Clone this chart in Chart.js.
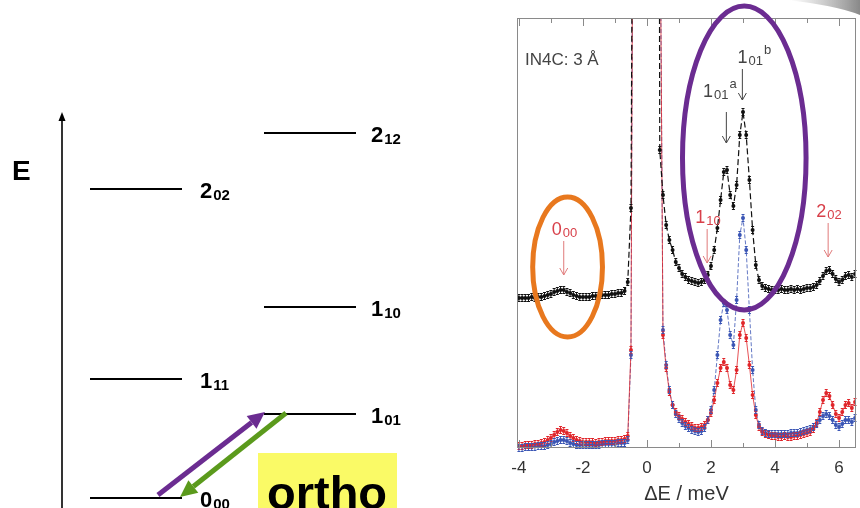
<!DOCTYPE html>
<html>
<head>
<meta charset="utf-8">
<script src="https://cdn.jsdelivr.net/npm/chart.js@4/dist/chart.umd.min.js"></script>
<style>
  html, body { margin: 0; padding: 0; background: #fff; }
</style>
</head>
<body>
<canvas id="chart" width="860" height="508"></canvas>
<script>
"use strict";

// energy transfer (meV), one point per 0.1 meV
var energy = [
  -4.0, -3.9, -3.8, -3.7, -3.6, -3.5, -3.4, -3.3, -3.2, -3.1,
  -3.0, -2.9, -2.8, -2.7, -2.6, -2.5, -2.4, -2.3, -2.2, -2.1,
  -2.0, -1.9, -1.8, -1.7, -1.6, -1.5, -1.4, -1.3, -1.2, -1.1,
  -1.0, -0.9, -0.8, -0.7, -0.6, -0.5, -0.4, -0.3, -0.2, -0.1,
  0.0, 0.1, 0.2, 0.3, 0.4, 0.5, 0.6, 0.7, 0.8, 0.9,
  1.0, 1.1, 1.2, 1.3, 1.4, 1.5, 1.6, 1.7, 1.8, 1.9,
  2.0, 2.1, 2.2, 2.3, 2.4, 2.5, 2.6, 2.7, 2.8, 2.9,
  3.0, 3.1, 3.2, 3.3, 3.4, 3.5, 3.6, 3.7, 3.8, 3.9,
  4.0, 4.1, 4.2, 4.3, 4.4, 4.5, 4.6, 4.7, 4.8, 4.9,
  5.0, 5.1, 5.2, 5.3, 5.4, 5.5, 5.6, 5.7, 5.8, 5.9,
  6.0, 6.1, 6.2, 6.3, 6.4, 6.5, 6.6
];

// intensities (arb. units); the elastic line at 0 meV runs far off scale
var seriesBlack = [
  150, 150, 150, 150, 151, 150, 151, 151, 152, 153,
  154, 156, 157, 158, 158, 156, 155, 153, 152, 151,
  151, 151, 151, 152, 152, 152, 153, 153, 153, 154,
  154, 155, 155, 157, 166, 240, 900, 3000, 6000, 8000,
  8500, 7500, 5000, 2000, 298, 253, 223, 208, 198, 186,
  180, 174, 171, 168, 167, 166, 165, 166, 168, 173,
  182, 198, 220, 248, 276, 278, 253, 242, 263, 313,
  336, 313, 268, 218, 183, 168, 162, 160, 159, 158,
  158, 158, 159, 158, 158, 159, 158, 159, 158, 159,
  160, 160, 161, 163, 167, 172, 177, 178, 174, 169,
  166, 168, 172, 173, 171, 174, 174
];

var seriesRed = [
  2, 2, 3, 3, 3, 4, 4, 5, 6, 8,
  10, 13, 16, 18, 17, 15, 12, 10, 8, 7,
  6, 6, 6, 6, 5, 6, 6, 7, 7, 7,
  7, 8, 8, 9, 12, 98, 900, 3000, 6000, 8000,
  8500, 7500, 5000, 2000, 600, 113, 80, 56, 43, 36,
  32, 29, 26, 24, 22, 20, 20, 21, 23, 28,
  35, 48, 65, 80, 86, 80, 63, 58, 78, 113,
  125, 110, 83, 53, 33, 21, 16, 14, 13, 12,
  12, 11, 11, 12, 11, 11, 12, 12, 13, 14,
  15, 16, 19, 25, 36, 48, 55, 52, 43, 34,
  30, 36, 43, 45, 40, 46, 48
];

var seriesBlue = [
  0, 0, 1, 1, 1, 1, 2, 2, 2, 3,
  4, 6, 7, 8, 8, 7, 5, 4, 3, 3,
  3, 3, 3, 3, 3, 3, 4, 4, 4, 4,
  4, 5, 5, 5, 8, 93, 900, 3000, 6000, 8000,
  8500, 7500, 5000, 2000, 600, 118, 83, 58, 43, 34,
  29, 25, 22, 20, 18, 17, 16, 17, 20, 28,
  38, 58, 93, 128, 145, 138, 113, 103, 148, 213,
  230, 198, 138, 78, 38, 23, 17, 15, 14, 14,
  14, 14, 14, 14, 14, 15, 15, 15, 16, 17,
  18, 19, 21, 24, 28, 32, 34, 32, 28, 23,
  21, 24, 28, 28, 26, 30, 31
];

var tickValues = [-4, -2, 0, 2, 4, 6];

// transitions marked in red (label, subscript, energy, intensity the arrow points at)
var redMain = ["0", "1", "2"];
var redSub = ["00", "10", "02"];
var redEnergy = [-2.6, 1.88, 5.66];
var redTip = [173, 185, 191];

// black labels over the split 1_01 peak
var blackSup = ["a", "b"];
var blackEnergy = [2.48, 2.98];
var blackTip = [305, 348];
var blackLabelX = [1.75, 2.83];
var blackLabelLevel = [351, 385];

// highlight ellipses: centre energy, centre intensity, half width (meV), half height
var ellipseEnergy = [-2.48, 3.04];
var ellipseLevel = [181, 290];
var ellipseHalfW = [1.09, 1.93];
var ellipseHalfH = [70, 152];
var ellipseColor = ["#e8781e", "#6b2c91"];

// rotational levels of the diagram on the left
var levelMain = ["0", "1", "2", "1", "1", "2"];
var levelSub = ["00", "11", "02", "01", "10", "12"];

// pixel layout of the level diagram
var levelY = [498, 379, 189, 414, 307, 133];
var levelCol = [0, 0, 0, 1, 1, 1];
var colX = [[90, 182], [264, 356]];
var colLabelX = [200, 371];

var FONT = "'Liberation Sans', Arial, Helvetica, sans-serif";

function font(size, bold) {
  return (bold ? "bold " : "") + size + "px " + FONT;
}

// text with subscript and optional superscript
function drawIndexed(c, main, sub, sup, x, y, size, subSize, color, bold) {
  c.fillStyle = color;
  c.textAlign = "left";
  c.textBaseline = "alphabetic";
  c.font = font(size, bold);
  c.fillText(main, x, y);
  var w = c.measureText(main).width;
  c.font = font(subSize, bold);
  c.fillText(sub, x + w + 1, y + 2);
  var w2 = c.measureText(sub).width;
  if (sup) {
    c.fillText(sup, x + w + w2 + 2, y - size * 0.5);
  }
}

function downArrow(c, x, y0, y1, color) {
  c.strokeStyle = color;
  c.lineWidth = 1;
  c.beginPath();
  c.moveTo(x, y0);
  c.lineTo(x, y1);
  c.moveTo(x - 4, y1 - 7);
  c.lineTo(x, y1);
  c.lineTo(x + 4, y1 - 7);
  c.stroke();
}

function fatArrow(c, x0, y0, x1, y1, color) {
  var a = Math.atan2(y1 - y0, x1 - x0);
  var head = 17;
  var bx = x1 - head * Math.cos(a);
  var by = y1 - head * Math.sin(a);
  c.strokeStyle = color;
  c.fillStyle = color;
  c.lineWidth = 5;
  c.beginPath();
  c.moveTo(x0, y0);
  c.lineTo(bx, by);
  c.stroke();
  c.beginPath();
  c.moveTo(x1, y1);
  c.lineTo(bx + 8 * Math.sin(a), by - 8 * Math.cos(a));
  c.lineTo(bx - 8 * Math.sin(a), by + 8 * Math.cos(a));
  c.closePath();
  c.fill();
}

// small vertical error bars on every plotted point
var errorBars = {
  id: "errorBars",
  afterDatasetsDraw: function (chart) {
    var c = chart.ctx;
    var area = chart.chartArea;
    c.save();
    chart.data.datasets.forEach(function (ds, i) {
      var meta = chart.getDatasetMeta(i);
      c.strokeStyle = ds.borderColor;
      c.lineWidth = 1;
      c.beginPath();
      meta.data.forEach(function (pt) {
        if (pt.y < area.top || pt.y > area.bottom) return;
        if (pt.x < area.left || pt.x > area.right) return;
        c.moveTo(pt.x, pt.y - 3.5);
        c.lineTo(pt.x, pt.y + 3.5);
        c.moveTo(pt.x - 1.5, pt.y - 3.5);
        c.lineTo(pt.x + 1.5, pt.y - 3.5);
        c.moveTo(pt.x - 1.5, pt.y + 3.5);
        c.lineTo(pt.x + 1.5, pt.y + 3.5);
      });
      c.stroke();
    });
    c.restore();
  }
};

// frame, inward ticks, annotations and the level diagram
var overlay = {
  id: "overlay",
  afterDraw: function (chart) {
    var c = chart.ctx;
    var area = chart.chartArea;
    var xs = chart.scales.x;
    var ys = chart.scales.y;
    c.save();

    // frame
    c.strokeStyle = "#8a8a8a";
    c.lineWidth = 1;
    c.strokeRect(area.left + 0.5, area.top + 0.5, area.right - area.left - 1, area.bottom - area.top - 1);
    c.beginPath();
    for (var t = Math.ceil(xs.min); t <= Math.floor(xs.max); t++) {
      var px = Math.round(xs.getPixelForValue(t)) + 0.5;
      var len = t % 2 === 0 ? 8 : 5;
      c.moveTo(px, area.bottom);
      c.lineTo(px, area.bottom - len);
      c.moveTo(px, area.top);
      c.lineTo(px, area.top + len);
    }
    c.stroke();

    // instrument tag
    c.fillStyle = "#444";
    c.font = font(17, false);
    c.textAlign = "left";
    c.textBaseline = "alphabetic";
    c.fillText("IN4C: 3 \u00c5", area.left + 8, 65);

    // red transition markers
    for (var i = 0; i < redMain.length; i++) {
      var rx = xs.getPixelForValue(redEnergy[i]);
      var ry = ys.getPixelForValue(redTip[i]);
      downArrow(c, rx, ry - 34, ry, "#e07a7a");
      drawIndexed(c, redMain[i], redSub[i], "", rx - 12, ry - 40, 18, 13, "#d8404a", false);
    }

    // black 1_01 a/b markers
    for (var j = 0; j < blackSup.length; j++) {
      var bx = xs.getPixelForValue(blackEnergy[j]);
      var by = ys.getPixelForValue(blackTip[j]);
      downArrow(c, bx, by - 31, by, "#444");
      drawIndexed(c, "1", "01", blackSup[j], xs.getPixelForValue(blackLabelX[j]),
        ys.getPixelForValue(blackLabelLevel[j]), 18, 13, "#444", false);
    }

    // highlight ellipses
    c.lineWidth = 5;
    for (var k = 0; k < ellipseEnergy.length; k++) {
      var cx = xs.getPixelForValue(ellipseEnergy[k]);
      var cy = ys.getPixelForValue(ellipseLevel[k]);
      var w = xs.getPixelForValue(ellipseEnergy[k] + ellipseHalfW[k]) - cx;
      var h = cy - ys.getPixelForValue(ellipseLevel[k] + ellipseHalfH[k]);
      c.strokeStyle = ellipseColor[k];
      c.beginPath();
      c.ellipse(cx, cy, w, h, 0, 0, Math.PI * 2);
      c.stroke();
    }

    // grey slide swoosh in the corner
    var g = c.createLinearGradient(790, 0, 860, 0);
    g.addColorStop(0, "rgba(160,160,160,0)");
    g.addColorStop(1, "rgba(130,130,130,0.95)");
    c.fillStyle = g;
    c.beginPath();
    c.moveTo(785, 0);
    c.lineTo(860, 0);
    c.lineTo(860, 15);
    c.quadraticCurveTo(835, 5, 785, 0);
    c.fill();

    // energy axis of the level diagram
    c.strokeStyle = "#000";
    c.fillStyle = "#000";
    c.lineWidth = 1.6;
    c.beginPath();
    c.moveTo(62, 508);
    c.lineTo(62, 119);
    c.stroke();
    c.beginPath();
    c.moveTo(62, 112);
    c.lineTo(58.5, 121);
    c.lineTo(65.5, 121);
    c.closePath();
    c.fill();
    c.font = font(28, true);
    c.fillText("E", 12, 180);

    // levels
    c.lineWidth = 2;
    for (var n = 0; n < levelMain.length; n++) {
      var col = colX[levelCol[n]];
      c.strokeStyle = "#000";
      c.beginPath();
      c.moveTo(col[0], levelY[n]);
      c.lineTo(col[1], levelY[n]);
      c.stroke();
      drawIndexed(c, levelMain[n], levelSub[n], "", colLabelX[levelCol[n]], levelY[n] + 9, 22, 15, "#000", true);
    }

    // ortho label
    c.fillStyle = "#fafa66";
    c.fillRect(258, 453, 139, 60);
    c.fillStyle = "#000";
    c.font = font(47, true);
    c.fillText("ortho", 267, 509);

    // excitation / de-excitation arrows
    fatArrow(c, 158, 495, 265, 412, "#6b2c91");
    fatArrow(c, 286, 413, 180, 497, "#5b9a1c");

    c.restore();
  }
};

var ctx = document.getElementById("chart");

function points(ys) {
  return energy.map(function (e, i) {
    return { x: e, y: ys[i] };
  });
}

var myChart = new Chart(ctx, {
  type: "line",
  data: {
    datasets: [
      {
        label: "black",
        data: points(seriesBlack),
        borderColor: "#111",
        backgroundColor: "#111",
        borderWidth: 1.2,
        borderDash: [6, 3],
        pointRadius: 2,
        pointBorderWidth: 0,
        tension: 0,
        clip: 0
      },
      {
        label: "red",
        data: points(seriesRed),
        borderColor: "#e0262b",
        backgroundColor: "#e0262b",
        borderWidth: 0.8,
        pointRadius: 2,
        pointBorderWidth: 0,
        tension: 0,
        clip: 0
      },
      {
        label: "blue",
        data: points(seriesBlue),
        borderColor: "#3b56b5",
        backgroundColor: "#3b56b5",
        borderWidth: 0.8,
        borderDash: [4, 2],
        pointRadius: 2,
        pointBorderWidth: 0,
        tension: 0,
        clip: 0
      }
    ]
  },
  options: {
    responsive: false,
    animation: false,
    devicePixelRatio: 1,
    layout: {
      padding: { left: 517, top: 18, right: 3, bottom: 0 }
    },
    plugins: {
      legend: { display: false },
      tooltip: { enabled: false }
    },
    scales: {
      x: {
        type: "linear",
        min: -4.06,
        max: 6.53,
        afterBuildTicks: function (axis) {
          axis.ticks = tickValues.map(function (v) {
            return { value: v };
          });
        },
        afterFit: function (axis) {
          axis.height = 60;
        },
        grid: { display: false, drawTicks: false },
        border: { display: false },
        ticks: {
          color: "#333",
          padding: 10,
          maxRotation: 0,
          autoSkip: false,
          font: { family: FONT, size: 17 }
        },
        title: {
          display: true,
          text: "\u0394E / meV",
          color: "#333",
          padding: { top: 0, bottom: 2 },
          font: { family: FONT, size: 20 }
        }
      },
      y: {
        display: false,
        min: 0,
        max: 430
      }
    }
  },
  plugins: [errorBars, overlay]
});
</script>
</body>
</html>
